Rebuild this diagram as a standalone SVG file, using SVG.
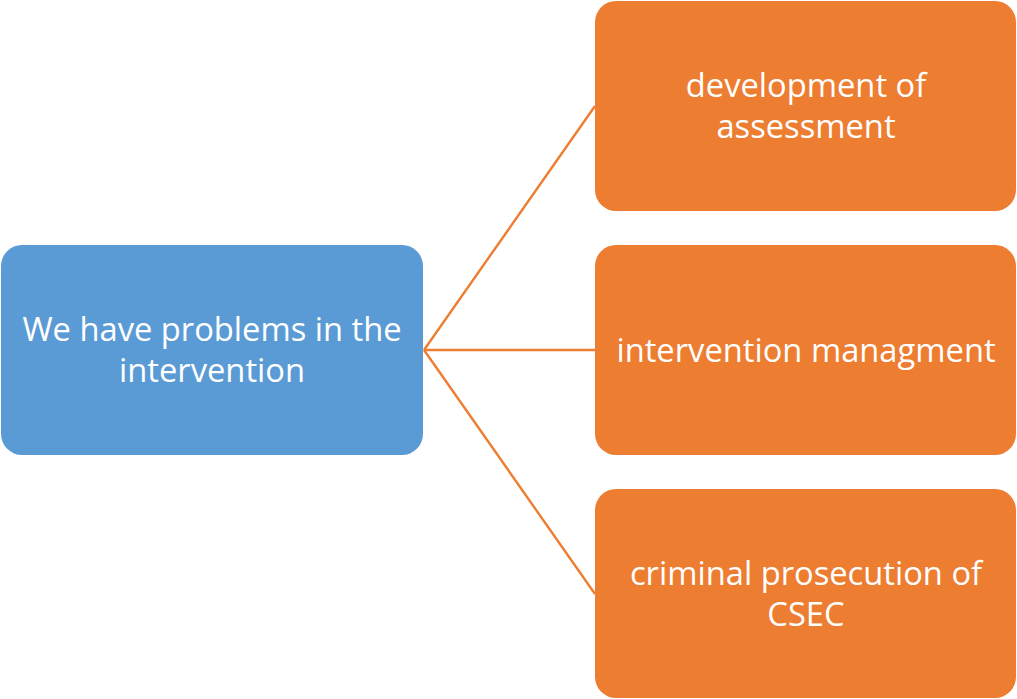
<svg xmlns="http://www.w3.org/2000/svg" width="1017" height="699" viewBox="0 0 1017 699">
<style>
.blue{fill:#5B9BD5}
.orange{fill:#ED7D31}
.t{font-family:"Open Sans","Noto Sans",sans-serif;font-size:32.7px;fill:#FFFFFF;text-anchor:middle}
.c{stroke:#ED7D31;stroke-width:2.4;fill:none}
</style>
<rect width="1017" height="699" fill="#FFFFFF"/>
<g id="connectors">
<line class="c" x1="424" y1="350" x2="595" y2="106"/>
<line class="c" x1="424" y1="350" x2="595" y2="350"/>
<line class="c" x1="424" y1="350" x2="595" y2="594"/>
</g>
<g id="root">
<rect class="blue" x="1" y="245" width="422" height="210" rx="21"/>
<text class="t" x="212" y="341">We have problems in the</text>
<text class="t" x="212" y="382">intervention</text>
</g>
<g id="n1">
<rect class="orange" x="595" y="1" width="421" height="210" rx="21"/>
<text class="t" x="806" y="97">development of</text>
<text class="t" x="806" y="138">assessment</text>
</g>
<g id="n2">
<rect class="orange" x="595" y="245" width="421" height="210" rx="21"/>
<text class="t" x="806" y="362">intervention managment</text>
</g>
<g id="n3">
<rect class="orange" x="595" y="489" width="421" height="209" rx="21"/>
<text class="t" x="806" y="585">criminal prosecution of</text>
<text class="t" x="806" y="626">CSEC</text>
</g>
</svg>
